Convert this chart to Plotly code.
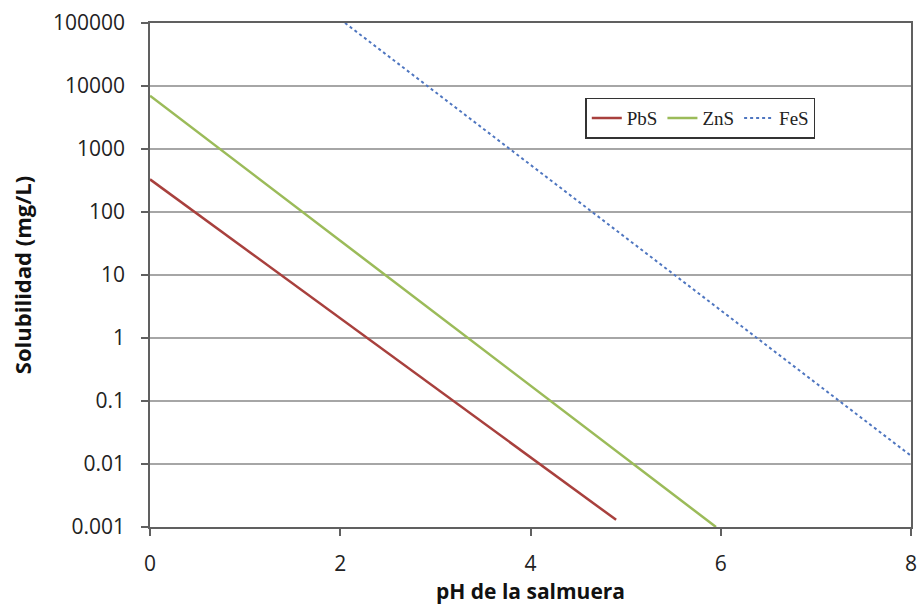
import plotly.graph_objects as go

# Data (pH of brine vs solubility, mg/L)
series_names = ["PbS", "ZnS", "FeS"]
pbs_ph = [0.0, 4.9]
pbs_sol = [330, 0.0013]
zns_ph = [0.0, 5.95]
zns_sol = [7000, 0.001]
fes_ph = [2.05, 8.0]
fes_sol = [100000, 0.0135]

y_tickvals = [0.001, 0.01, 0.1, 1, 10, 100, 1000, 10000, 100000]
y_ticktext = ["0.001", "0.01", "0.1", "1", "10", "100", "1000", "10000", "100000"]
x_tickvals = [0, 2, 4, 6, 8]

fig = go.Figure()
fig.add_trace(go.Scatter(x=pbs_ph, y=pbs_sol, mode="lines", name=series_names[0],
                         line=dict(color="#a8403d", width=2.5)))
fig.add_trace(go.Scatter(x=zns_ph, y=zns_sol, mode="lines", name=series_names[1],
                         line=dict(color="#9bbb59", width=2.5)))
fig.add_trace(go.Scatter(x=fes_ph, y=fes_sol, mode="lines", name=series_names[2],
                         line=dict(color="#4f76c0", width=2, dash="dot")))

fig.update_layout(
    width=921, height=607,
    margin=dict(l=150, r=10, t=23, b=80),
    paper_bgcolor="white", plot_bgcolor="white",
    font=dict(family="Open Sans", size=21, color="#222222"),
    showlegend=True,
    legend=dict(
        x=0.572, y=0.852, xanchor="left", yanchor="top",
        orientation="h",
        bordercolor="#333333", borderwidth=1.5, bgcolor="white",
        font=dict(family="Liberation Serif", size=19, color="#222222"),
        itemwidth=30, tracegroupgap=0,
    ),
    xaxis=dict(
        range=[0, 8], tickvals=x_tickvals, automargin=False,
        showgrid=False, zeroline=False,
        showline=True, linecolor="#606060", linewidth=1.5, mirror=True,
        ticks="outside", ticklen=7, tickcolor="#606060", tickwidth=1.5,
        ticklabelstandoff=10,
        tickfont=dict(size=21, color="#222222"),
        title=dict(text="<b>pH de la salmuera</b>", font=dict(size=21, color="#111111"), standoff=8),
    ),
    yaxis=dict(
        type="log", range=[-3, 5], tickvals=y_tickvals, ticktext=y_ticktext,
        automargin=False,
        showgrid=True, gridcolor="#a6a6a6", gridwidth=1.5, zeroline=False,
        showline=True, linecolor="#606060", linewidth=1.5, mirror=True,
        ticks="outside", ticklen=7, tickcolor="#606060", tickwidth=1.5,
        ticklabelstandoff=12,
        tickfont=dict(size=21, color="#222222"),
        title=dict(text="<b>Solubilidad (mg/L)</b>", font=dict(size=22, color="#111111"), standoff=15),
    ),
)

fig.write_html("out.html")
